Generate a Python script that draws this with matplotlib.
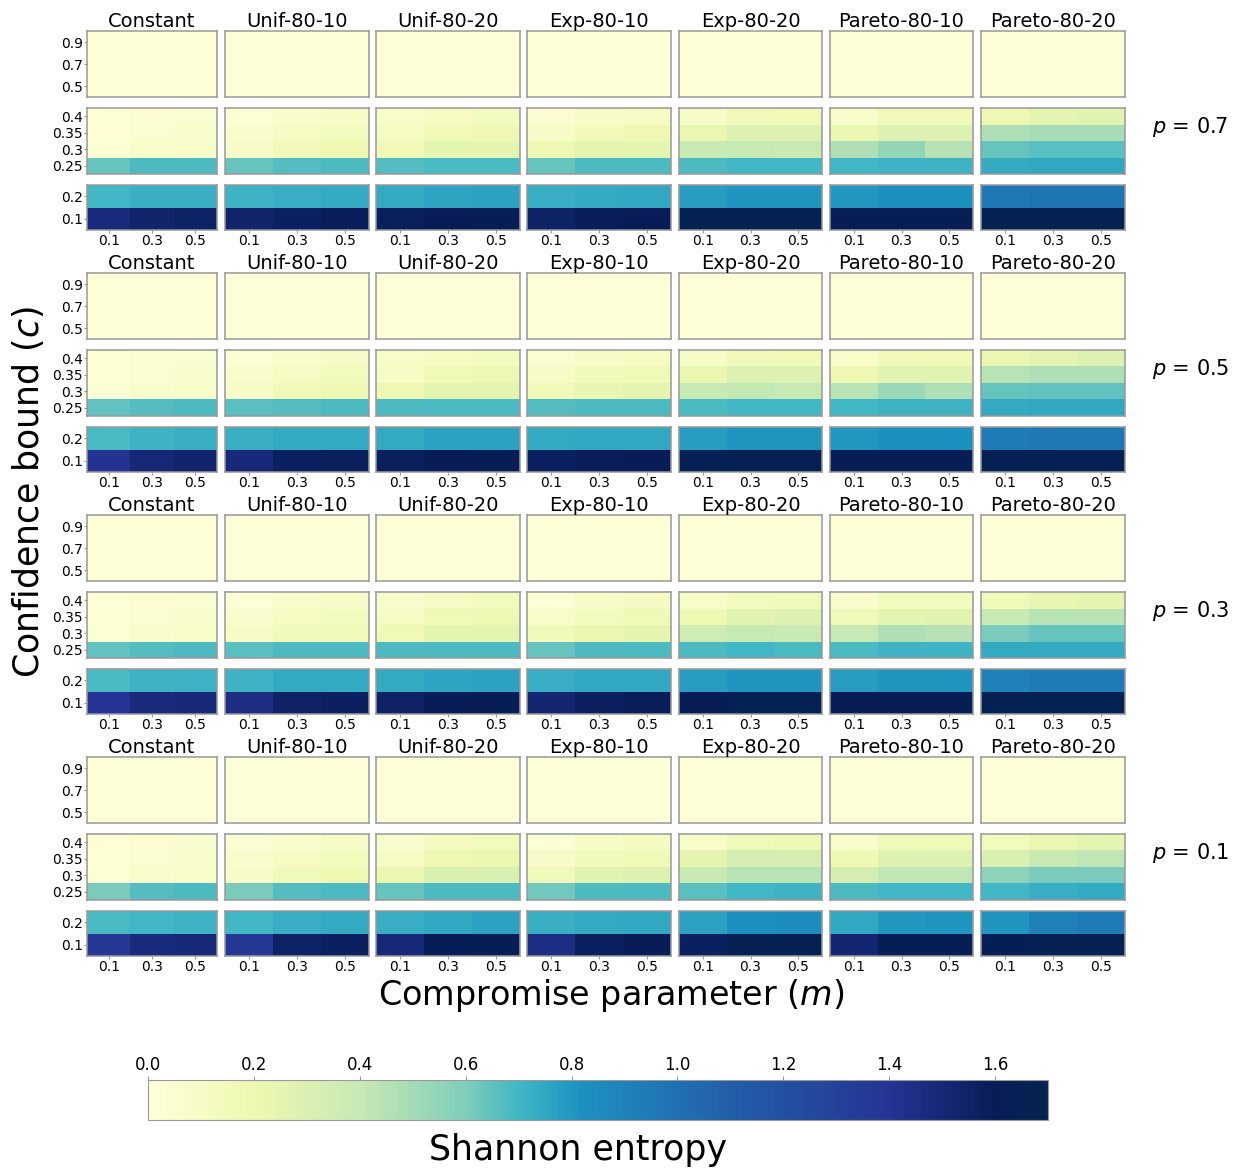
import numpy as np
import matplotlib
matplotlib.use("Agg")
import matplotlib.pyplot as plt
from matplotlib.cm import ScalarMappable
from matplotlib.colors import Normalize, LinearSegmentedColormap

# labels
dists = ["Constant", "Unif-80-10", "Unif-80-20", "Exp-80-10",
         "Exp-80-20", "Pareto-80-10", "Pareto-80-20"]
p_values = [0.7, 0.5, 0.3, 0.1]
m_values = [0.1, 0.3, 0.5]
c_top = ["0.5", "0.7", "0.9"]
c_mid = ["0.25", "0.3", "0.35", "0.4"]
c_bot = ["0.1", "0.2"]

# top block (c = 0.5, 0.7, 0.9) is flat for all cases
top_vals = [[0.01, 0.01, 0.01],
            [0.01, 0.01, 0.01],
            [0.01, 0.01, 0.01]]

# rows per distribution: c = 0.1, 0.2, 0.25, 0.3, 0.35, 0.4 ; cols: m = 0.1, 0.3, 0.5
ent_p07 = [
    [[1.48, 1.53, 1.55], [0.70, 0.72, 0.72], [0.64, 0.68, 0.68], [0.03, 0.07, 0.08], [0.02, 0.05, 0.06], [0.02, 0.04, 0.05]],
    [[1.53, 1.57, 1.59], [0.71, 0.73, 0.74], [0.64, 0.67, 0.68], [0.09, 0.16, 0.19], [0.06, 0.11, 0.14], [0.03, 0.07, 0.09]],
    [[1.58, 1.60, 1.61], [0.74, 0.76, 0.77], [0.67, 0.69, 0.69], [0.17, 0.25, 0.24], [0.11, 0.17, 0.19], [0.08, 0.11, 0.13]],
    [[1.55, 1.59, 1.60], [0.73, 0.74, 0.75], [0.64, 0.68, 0.68], [0.19, 0.24, 0.25], [0.09, 0.15, 0.19], [0.04, 0.09, 0.11]],
    [[1.66, 1.66, 1.66], [0.78, 0.81, 0.81], [0.68, 0.70, 0.70], [0.38, 0.40, 0.38], [0.21, 0.28, 0.28], [0.09, 0.16, 0.17]],
    [[1.63, 1.63, 1.63], [0.80, 0.82, 0.82], [0.70, 0.71, 0.71], [0.47, 0.54, 0.45], [0.21, 0.28, 0.28], [0.08, 0.16, 0.16]],
    [[1.66, 1.66, 1.66], [0.96, 0.97, 0.97], [0.74, 0.75, 0.75], [0.64, 0.66, 0.66], [0.47, 0.49, 0.49], [0.19, 0.25, 0.26]],
]
ent_p05 = [
    [[1.41, 1.50, 1.53], [0.69, 0.71, 0.72], [0.65, 0.67, 0.68], [0.03, 0.07, 0.08], [0.02, 0.05, 0.06], [0.02, 0.04, 0.05]],
    [[1.49, 1.57, 1.58], [0.72, 0.74, 0.74], [0.66, 0.67, 0.68], [0.09, 0.17, 0.19], [0.07, 0.11, 0.14], [0.03, 0.07, 0.09]],
    [[1.58, 1.60, 1.61], [0.74, 0.77, 0.77], [0.68, 0.69, 0.69], [0.19, 0.25, 0.24], [0.11, 0.17, 0.19], [0.08, 0.11, 0.14]],
    [[1.57, 1.59, 1.60], [0.74, 0.75, 0.75], [0.67, 0.68, 0.68], [0.17, 0.22, 0.24], [0.09, 0.15, 0.17], [0.04, 0.09, 0.11]],
    [[1.66, 1.66, 1.66], [0.78, 0.81, 0.81], [0.69, 0.70, 0.70], [0.40, 0.41, 0.40], [0.21, 0.28, 0.28], [0.09, 0.16, 0.17]],
    [[1.63, 1.63, 1.63], [0.80, 0.82, 0.82], [0.70, 0.71, 0.71], [0.44, 0.52, 0.47], [0.19, 0.26, 0.26], [0.08, 0.16, 0.17]],
    [[1.66, 1.66, 1.66], [0.94, 0.96, 0.96], [0.74, 0.75, 0.75], [0.64, 0.65, 0.65], [0.44, 0.47, 0.47], [0.21, 0.25, 0.28]],
]
ent_p03 = [
    [[1.40, 1.48, 1.50], [0.69, 0.71, 0.71], [0.65, 0.67, 0.68], [0.03, 0.07, 0.08], [0.02, 0.05, 0.06], [0.02, 0.04, 0.05]],
    [[1.45, 1.55, 1.57], [0.71, 0.74, 0.74], [0.66, 0.68, 0.68], [0.09, 0.15, 0.15], [0.06, 0.11, 0.13], [0.03, 0.07, 0.09]],
    [[1.55, 1.60, 1.61], [0.74, 0.76, 0.77], [0.68, 0.68, 0.68], [0.17, 0.25, 0.25], [0.11, 0.17, 0.19], [0.06, 0.11, 0.14]],
    [[1.51, 1.57, 1.59], [0.73, 0.75, 0.75], [0.64, 0.68, 0.68], [0.15, 0.21, 0.24], [0.08, 0.14, 0.17], [0.03, 0.09, 0.12]],
    [[1.63, 1.66, 1.66], [0.78, 0.81, 0.81], [0.68, 0.70, 0.69], [0.36, 0.40, 0.38], [0.19, 0.26, 0.28], [0.08, 0.14, 0.16]],
    [[1.61, 1.63, 1.63], [0.78, 0.81, 0.81], [0.69, 0.71, 0.71], [0.40, 0.47, 0.45], [0.16, 0.25, 0.26], [0.06, 0.14, 0.14]],
    [[1.66, 1.66, 1.66], [0.90, 0.94, 0.94], [0.74, 0.74, 0.74], [0.61, 0.64, 0.64], [0.38, 0.44, 0.44], [0.17, 0.22, 0.25]],
]
ent_p01 = [
    [[1.36, 1.48, 1.50], [0.69, 0.70, 0.71], [0.61, 0.67, 0.68], [0.03, 0.07, 0.08], [0.02, 0.05, 0.07], [0.02, 0.04, 0.06]],
    [[1.36, 1.55, 1.57], [0.70, 0.73, 0.74], [0.61, 0.67, 0.68], [0.09, 0.16, 0.19], [0.06, 0.11, 0.14], [0.03, 0.07, 0.09]],
    [[1.50, 1.60, 1.61], [0.73, 0.75, 0.77], [0.64, 0.68, 0.68], [0.21, 0.31, 0.31], [0.11, 0.19, 0.21], [0.06, 0.12, 0.14]],
    [[1.45, 1.58, 1.60], [0.72, 0.74, 0.75], [0.62, 0.68, 0.68], [0.16, 0.26, 0.28], [0.09, 0.15, 0.17], [0.03, 0.09, 0.12]],
    [[1.57, 1.66, 1.66], [0.77, 0.82, 0.84], [0.66, 0.70, 0.71], [0.38, 0.44, 0.44], [0.24, 0.33, 0.33], [0.08, 0.16, 0.19]],
    [[1.51, 1.63, 1.63], [0.75, 0.80, 0.81], [0.68, 0.70, 0.70], [0.33, 0.42, 0.42], [0.19, 0.28, 0.28], [0.07, 0.16, 0.17]],
    [[1.61, 1.66, 1.66], [0.81, 0.90, 0.94], [0.70, 0.73, 0.74], [0.56, 0.61, 0.61], [0.31, 0.39, 0.42], [0.14, 0.21, 0.25]],
]
ent_all = [ent_p07, ent_p05, ent_p03, ent_p01]

W, H = 1241, 1170
VMAX = 1.7
edge = "#999999"

# YlGnBu colours, spaced the way the reference colour bar shows them
cm_pos = [0.0, 0.2, 0.4, 0.6, 0.7, 0.82, 1.1, 1.4, 1.6, 1.7]
cm_col = ["#ffffd9", "#edf8b1", "#c7e9b4", "#7fcdbb", "#41b6c4",
          "#1d91c0", "#225ea8", "#253494", "#081d58", "#04234f"]
cmap = LinearSegmentedColormap.from_list(
    "ylgnbu_ref", list(zip([v / VMAX for v in cm_pos], cm_col)))

fig = plt.figure(figsize=(W / 100, H / 100), dpi=100)


def box(x0, y0, x1, y1):
    # pixel box (top-left origin) -> figure fraction rect
    return [x0 / W, 1 - y1 / H, (x1 - x0) / W, (y1 - y0) / H]


col_left = [87, 225, 376, 527, 679, 830, 981]
col_right = [217, 369, 520, 671, 822, 973, 1125]
group_top = [31, 273, 515, 757]
# offsets of the three blocks inside one group
blocks = [(0, 66), (77, 143), (154, 199)]


def draw(ax, data, ylabels, first, bottom):
    ax.imshow(np.array(data), cmap=cmap, vmin=0, vmax=VMAX, aspect="auto",
              origin="lower", interpolation="nearest")
    for s in ax.spines.values():
        s.set_color(edge)
        s.set_linewidth(1.1)
    ax.tick_params(length=2, width=0.8, color=edge, labelsize=10, pad=1)
    if first:
        ax.set_yticks(range(len(ylabels)))
        ax.set_yticklabels(ylabels)
    else:
        ax.set_yticks([])
    if bottom:
        ax.set_xticks(range(len(m_values)))
        ax.set_xticklabels([str(m) for m in m_values])
    else:
        ax.set_xticks([])


for g, p in enumerate(p_values):
    gt = group_top[g]
    for j, name in enumerate(dists):
        vals = np.array(ent_all[g][j])
        parts = [(top_vals, c_top), (vals[2:6], c_mid), (vals[0:2], c_bot)]
        for b, (data, labs) in enumerate(parts):
            y0, y1 = blocks[b]
            ax = fig.add_axes(box(col_left[j], gt + y0, col_right[j], gt + y1))
            draw(ax, data, labs, j == 0, b == 2)
            if b == 0:
                ax.set_title(name, fontsize=14, pad=2)
    fig.text(1152 / W, 1 - (gt + 96) / H, r"$p$ = %.1f" % p, fontsize=15,
             ha="left", va="center")

fig.text(28 / W, 1 - 492 / H, r"Confidence bound ($c$)", fontsize=25,
         rotation=90, ha="center", va="center")
fig.text(611 / W, 1 - 996 / H, r"Compromise parameter ($m$)", fontsize=24,
         ha="center", va="center")

cax = fig.add_axes(box(148, 1080, 1048, 1120))
sm = ScalarMappable(norm=Normalize(0, VMAX), cmap=cmap)
cb = fig.colorbar(sm, cax=cax, orientation="horizontal")
cb.set_ticks([0.0, 0.2, 0.4, 0.6, 0.8, 1.0, 1.2, 1.4, 1.6])
cax.xaxis.set_ticks_position("top")
cax.tick_params(labelsize=12, length=3, color=edge, pad=1)
cb.outline.set_edgecolor(edge)
fig.text(578 / W, 1 - 1150 / H, "Shannon entropy", fontsize=25,
         ha="center", va="center")

fig.savefig("out.png", dpi=100)
